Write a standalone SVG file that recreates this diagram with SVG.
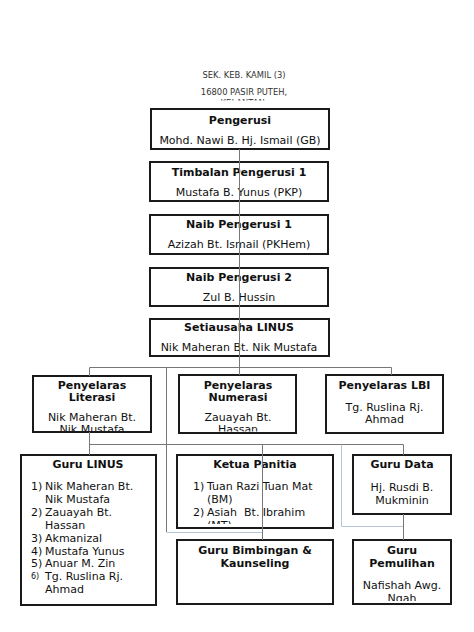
<svg xmlns="http://www.w3.org/2000/svg" width="474" height="632" viewBox="0 0 474 632">
<style>
.box{fill:#fff;stroke:#1a1a1a;stroke-width:2}
text{font-family:"DejaVu Sans",Verdana,sans-serif;font-size:11px;fill:#111}
.b{font-weight:bold}
.c{text-anchor:middle}
.hdr{font-size:8.4px;fill:#333;text-anchor:middle}
.ln{stroke:#777;stroke-width:1;fill:none}
.lb{stroke:#b4c6d8;stroke-width:1;fill:none}
</style>
<defs>
<clipPath id="cHdr"><rect x="150" y="60" width="180" height="40.5"/></clipPath>
<clipPath id="cLit"><rect x="33" y="376" width="118" height="55"/></clipPath>
<clipPath id="cNum"><rect x="179" y="375" width="117" height="56.5"/></clipPath>
<clipPath id="cKet"><rect x="177" y="455" width="156" height="69"/></clipPath>
<clipPath id="cPem"><rect x="353" y="540" width="98" height="61"/></clipPath>
</defs>
<rect width="474" height="632" fill="#fff"/>
<g id="header">
<text class="hdr" x="244" y="78">SEK. KEB. KAMIL (3)</text>
<text class="hdr" x="244" y="95">16800 PASIR PUTEH,</text>
<text class="hdr" x="244" y="106" clip-path="url(#cHdr)">KELANTAN.</text>
</g>
<g id="pengerusi">
<rect class="box" x="151" y="109" width="178" height="40"/>
<text class="b c" x="240" y="124">Pengerusi</text>
<text class="c" x="240" y="144">Mohd. Nawi B. Hj. Ismail (GB)</text>
</g>
<g id="timbalan">
<rect class="box" x="150" y="162" width="178" height="39"/>
<text class="b c" x="239" y="176">Timbalan Pengerusi 1</text>
<text class="c" x="239" y="196">Mustafa B. Yunus (PKP)</text>
</g>
<g id="naib1">
<rect class="box" x="150" y="215" width="178" height="39"/>
<text class="b c" x="239" y="228">Naib Pengerusi 1</text>
<text class="c" x="239" y="248">Azizah Bt. Ismail (PKHem)</text>
</g>
<g id="naib2">
<rect class="box" x="150" y="268" width="178" height="38"/>
<text class="b c" x="239" y="281">Naib Pengerusi 2</text>
<text class="c" x="239" y="301">Zul B. Hussin</text>
</g>
<g id="setiausaha">
<rect class="box" x="150" y="319" width="179" height="37"/>
<text class="b c" x="239" y="331">Setiausaha LINUS</text>
<text class="c" x="239" y="351">Nik Maheran Bt. Nik Mustafa</text>
</g>
<g id="literasi">
<rect class="box" x="33" y="376" width="118" height="56"/>
<text class="b c" x="92" y="389">Penyelaras</text>
<text class="b c" x="92" y="401">Literasi</text>
<text class="c" x="92" y="421">Nik Maheran Bt.</text>
<text class="c" x="92" y="433" clip-path="url(#cLit)">Nik Mustafa</text>
</g>
<g id="numerasi">
<rect class="box" x="179" y="375" width="117" height="58"/>
<text class="b c" x="238" y="389">Penyelaras</text>
<text class="b c" x="238" y="401">Numerasi</text>
<text class="c" x="238" y="421">Zauayah Bt.</text>
<text class="c" x="238" y="433" clip-path="url(#cNum)">Hassan</text>
</g>
<g id="lbi">
<rect class="box" x="326" y="375" width="117" height="58"/>
<text class="b c" x="384.5" y="389">Penyelaras LBI</text>
<text class="c" x="384.5" y="411">Tg. Ruslina Rj.</text>
<text class="c" x="384.5" y="423">Ahmad</text>
</g>
<g id="guru-linus">
<rect class="box" x="21" y="455" width="135" height="150"/>
<text class="b c" x="88" y="468">Guru LINUS</text>
<text x="31" y="490">1)</text><text x="45" y="490">Nik Maheran Bt.</text>
<text x="45" y="503">Nik Mustafa</text>
<text x="31" y="516">2)</text><text x="45" y="516">Zauayah Bt.</text>
<text x="45" y="529">Hassan</text>
<text x="31" y="542">3)</text><text x="45" y="542">Akmanizal</text>
<text x="31" y="555">4)</text><text x="45" y="555">Mustafa Yunus</text>
<text x="31" y="567">5)</text><text x="45" y="567">Anuar M. Zin</text>
<text x="31" y="579" style="font-size:8px">6)</text><text x="45" y="580">Tg. Ruslina Rj.</text>
<text x="45" y="593">Ahmad</text>
</g>
<g id="ketua-panitia">
<rect class="box" x="177" y="455" width="156" height="73"/>
<text class="b c" x="255" y="468">Ketua Panitia</text>
<text x="193" y="490">1)</text><text x="207" y="490">Tuan Razi Tuan Mat</text>
<text x="207" y="503">(BM)</text>
<text x="193" y="516">2)</text><text x="207" y="516" xml:space="preserve">Asiah  Bt. Ibrahim</text>
<text x="207" y="529" clip-path="url(#cKet)">(MT)</text>
</g>
<g id="guru-data">
<rect class="box" x="353" y="455" width="98" height="59"/>
<text class="b c" x="402" y="468">Guru Data</text>
<text class="c" x="402" y="491">Hj. Rusdi B.</text>
<text class="c" x="402" y="504">Mukminin</text>
</g>
<g id="guru-bimbingan">
<rect class="box" x="177" y="540" width="156" height="64"/>
<text class="b c" x="255" y="554">Guru Bimbingan &amp;</text>
<text class="b c" x="255" y="567">Kaunseling</text>
</g>
<g id="guru-pemulihan">
<rect class="box" x="353" y="540" width="98" height="64"/>
<text class="b c" x="402" y="554">Guru</text>
<text class="b c" x="402" y="567">Pemulihan</text>
<text class="c" x="402" y="589">Nafishah Awg.</text>
<text class="c" x="402" y="602" clip-path="url(#cPem)">Ngah</text>
</g>
<g id="connectors">
<path class="ln" d="M239.5 149V375"/>
<path class="ln" d="M89.5 376V367.5H391.5V375"/>
<path class="ln" d="M166.5 367.5V532"/>
<path class="lb" d="M166.5 532.5H262.5"/>
<path class="ln" d="M89.5 432V455M89.5 444.5H403.5V455"/>
<path class="ln" d="M262.5 444.5V540"/>
<path class="lb" d="M341.5 444.5V526.5H403.5"/>
<path class="ln" d="M403.5 514V540"/>
</g>
</svg>
